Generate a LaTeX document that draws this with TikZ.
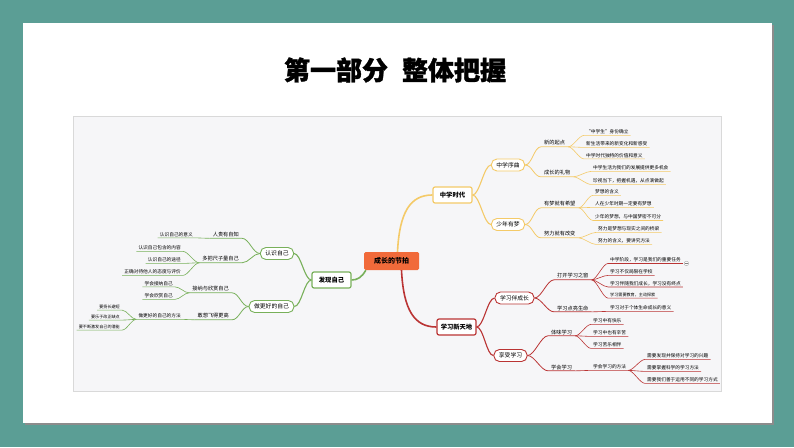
\documentclass[tikz,border=0pt]{standalone}
\usepackage{fontspec}
\newfontfamily\cjk{Noto Sans CJK SC}
\newfontfamily\titlefont[BoldFeatures={FakeBold=1.2}]{Noto Sans CJK SC}
\definecolor{bgteal}{RGB}{91,158,149}
\definecolor{mapbg}{RGB}{246,246,248}
\definecolor{yel}{RGB}{244,202,104}
\definecolor{rd}{RGB}{186,52,52}
\definecolor{gr}{RGB}{120,176,90}
\definecolor{org}{RGB}{241,106,58}
\newcommand\mmRB[3]{\draw[#1] (#2.east) .. controls +(7,0) and +(-7,0) .. (#3.west);}
\newcommand\mmRT[3]{\draw[#1] (#2.east) .. controls +(7,0) and +(-7,0) .. (#3.south west) -- (#3.south east);}
\newcommand\mmRL[3]{\draw[#1] (#2.south east) .. controls +(5,0) and +(-5,0) .. (#3.south west) -- (#3.south east);}
\newcommand\mmLB[3]{\draw[#1] (#2.west) .. controls +(-7,0) and +(7,0) .. (#3.east);}
\newcommand\mmLT[3]{\draw[#1] (#2.west) .. controls +(-7,0) and +(7,0) .. (#3.south east) -- (#3.south west);}
\newcommand\mmLL[3]{\draw[#1] (#2.south west) .. controls +(-5,0) and +(5,0) .. (#3.south east) -- (#3.south west);}
\tikzset{
  ctrbox/.style={fill=org, rounded corners=1.5pt, minimum width=55pt, minimum height=18pt, inner sep=0pt,
    font=\cjk\bfseries\fontsize{7}{8}\selectfont},
  lone/.style={draw, fill=white, rounded corners=2pt, line width=1.2pt, minimum height=16pt, minimum width=39pt, inner xsep=3pt,
    font=\cjk\bfseries\fontsize{6.3}{7}\selectfont, text=black},
  ltwo/.style={draw, fill=white, rounded corners=5.5pt, line width=0.9pt, minimum height=12pt, inner xsep=5pt, inner ysep=0pt,
    font=\cjk\fontsize{5.8}{6.5}\selectfont, text=black},
  tthree/.style={inner xsep=3pt, inner ysep=1.2pt, font=\cjk\fontsize{5.2}{6}\selectfont},
  leaf/.style={inner xsep=2pt, inner ysep=1pt, font=\cjk\fontsize{4.7}{5.3}\selectfont},
  tiny/.style={inner xsep=2pt, inner ysep=1pt, font=\cjk\fontsize{4.1}{4.8}\selectfont},
  rw/.style={anchor=west}, le/.style={anchor=east},
  yA/.style={draw=yel, line width=1.6pt}, yB/.style={draw=yel, line width=1.1pt}, yC/.style={draw=yel, line width=0.8pt}, yD/.style={draw=yel, line width=0.6pt},
  rA/.style={draw=rd, line width=1.6pt}, rB/.style={draw=rd, line width=1.1pt}, rC/.style={draw=rd, line width=0.8pt}, rD/.style={draw=rd, line width=0.6pt},
  gA/.style={draw=gr, line width=1.6pt}, gB/.style={draw=gr, line width=1.1pt}, gC/.style={draw=gr, line width=0.8pt}, gD/.style={draw=gr, line width=0.6pt},
}
\begin{document}
\begin{tikzpicture}[x=1pt,y=-1pt]
\useasboundingbox (0,0) rectangle (794,447);
\fill[bgteal] (0,0) rectangle (794,447);
\fill[black!45] (24.5,24.5) rectangle (773.5,424.5);
\fill[white] (23,23) rectangle (772,423);
\node[font=\titlefont\bfseries\fontsize{26}{28}\selectfont] (title) at (395,70) {第一部分\hspace{14pt}整体把握};
\draw[black!15, fill=mapbg] (73,116) rectangle (721,391);

% centre and level 1
\node[ctrbox] (ctr) at (391.5,261) {成长的节拍};
\node[lone, draw=yel] (zsd) at (452.5,195) {中学时代};
\node[lone, draw=rd] (xxt) at (456.5,327) {学习新天地};
\node[lone, draw=gr] (fx) at (331.5,280) {发现自己};
\draw[yA] ([xshift=6pt]ctr.north) .. controls +(2,-40) and +(-22,0) .. (zsd.west);
\draw[rA] ([xshift=10pt]ctr.south) .. controls +(2,40) and +(-22,0) .. (xxt.west);
\draw[gA] ([xshift=2pt]ctr.south west) .. controls +(-4,7) and +(6,0) .. (fx.east);

% level 2
\node[ltwo, draw=yel] (xq) at (508,165) {中学序曲};
\node[ltwo, draw=yel] (sn) at (508,224.5) {少年有梦};
\node[ltwo, draw=rd] (bcz) at (514.5,298) {学习伴成长};
\node[ltwo, draw=rd] (xsx) at (510.5,355.5) {享受学习};
\node[ltwo, draw=gr] (rs) at (277,253.5) {认识自己};
\node[ltwo, draw=gr] (zg) at (271.5,306.5) {做更好的自己};
\mmRB{yB}{zsd}{xq} \mmRB{yB}{zsd}{sn}
\mmRB{rB}{xxt}{bcz} \mmRB{rB}{xxt}{xsx}
\mmLB{gB}{fx}{rs} \mmLB{gB}{fx}{zg}

% level 3 right
\node[tthree, rw] (xqd) at (541,143) {新的起点};
\node[tthree, rw] (lw) at (541,173) {成长的礼物};
\node[tthree, rw] (ym) at (541,204) {有梦就有希望};
\node[tthree, rw] (nl) at (541,234) {努力就有改变};
\node[tthree, rw] (dk) at (554,276) {打开学习之窗};
\node[tthree, rw] (dl) at (554,308) {学习点亮生命};
\node[tthree, rw] (tw) at (548,332) {体味学习};
\node[tthree, rw] (xh) at (548,367) {学会学习};
\mmRT{yC}{xq}{xqd} \mmRT{yC}{xq}{lw}
\mmRT{yC}{sn}{ym} \mmRT{yC}{sn}{nl}
\mmRT{rC}{bcz}{dk} \mmRT{rC}{bcz}{dl}
\mmRT{rC}{xsx}{tw} \mmRT{rC}{xsx}{xh}

% level 3 left
\node[tthree, le] (rg) at (242,234.5) {人贵有自知};
\node[tthree, le] (dbc) at (242,259) {多把尺子量自己};
\node[tthree, le] (jn) at (232,289) {接纳与欣赏自己};
\node[tthree, le] (gf) at (232,316) {敢想飞得更高};
\mmLT{gC}{rs}{rg} \mmLT{gC}{rs}{dbc}
\mmLT{gC}{zg}{jn} \mmLT{gC}{zg}{gf}

% leaves right
\node[leaf, rw] (a1) at (584,132) {“中学生”身份确立};
\node[leaf, rw] (a2) at (584,144) {新生活带来的新变化和新感受};
\node[leaf, rw] (a3) at (584,155.5) {中学时代独特的价值和意义};
\node[leaf, rw] (b1) at (591,168) {中学生活为我们的发展提供更多机会};
\node[leaf, rw] (b2) at (591,181) {珍视当下，把握机遇，从点滴做起};
\node[leaf, rw] (c1) at (593,192) {梦想的含义};
\node[leaf, rw] (c2) at (593,204) {人在少年时期一定要有梦想};
\node[leaf, rw] (c3) at (593,217) {少年的梦想，与中国梦密不可分};
\node[leaf, rw] (d1) at (596,229) {努力是梦想与现实之间的桥梁};
\node[leaf, rw] (d2) at (596,241) {努力的含义，要讲究方法};
\mmRL{yD}{xqd}{a1} \mmRL{yD}{xqd}{a2} \mmRL{yD}{xqd}{a3}
\mmRL{yD}{lw}{b1} \mmRL{yD}{lw}{b2}
\mmRL{yD}{ym}{c1} \mmRL{yD}{ym}{c2} \mmRL{yD}{ym}{c3}
\mmRL{yD}{nl}{d1} \mmRL{yD}{nl}{d2}

\node[leaf, rw] (e1) at (608,260) {中学阶段，学习是我们的重要任务};
\node[leaf, rw] (e2) at (608,272) {学习不仅局限在学校};
\node[leaf, rw] (e3) at (608,283.5) {学习伴随我们成长，学习没有终点};
\node[tiny, rw] (e4) at (608,295) {学习需要教育，主动探索};
\node[leaf, rw] (f1) at (608,308) {学习对于个体生命成长的意义};
\node[leaf, rw] (g1) at (591,321) {学习中有快乐};
\node[leaf, rw] (g2) at (591,333) {学习中也有辛苦};
\node[leaf, rw] (g3) at (591,345) {学习苦乐相伴};
\node[leaf, rw] (h1) at (591,367) {学会学习的方法};
\node[leaf, rw] (i1) at (645,356) {需要发现并保持对学习的兴趣};
\node[leaf, rw] (i2) at (645,368) {需要掌握科学的学习方法};
\node[leaf, rw] (i3) at (645,380) {需要我们善于运用不同的学习方式};
\mmRL{rD}{dk}{e1} \mmRL{rD}{dk}{e2} \mmRL{rD}{dk}{e3} \mmRL{rD}{dk}{e4}
\mmRL{rD}{dl}{f1}
\mmRL{rD}{tw}{g1} \mmRL{rD}{tw}{g2} \mmRL{rD}{tw}{g3}
\mmRL{rD}{xh}{h1}
\mmRL{rD}{h1}{i1} \mmRL{rD}{h1}{i2} \mmRL{rD}{h1}{i3}
\node[draw=black!35, fill=white, circle, line width=0.4pt, inner sep=0pt, minimum size=4.5pt] (fold) at ([xshift=3.5pt]e1.south east) {};
\draw[black!50, line width=0.4pt] ([xshift=-1.2pt]fold.center) -- ([xshift=1.2pt]fold.center);

% leaves left
\node[leaf, le] (r1) at (195,234.5) {认识自己的意义};
\node[leaf, le] (m1) at (183,248) {认识自己包含的内容};
\node[leaf, le] (m2) at (183,260) {认识自己的途径};
\node[leaf, le] (m3) at (183,272) {正确对待他人的态度与评价};
\node[leaf, le] (j1) at (175,283.5) {学会接纳自己};
\node[leaf, le] (j2) at (175,296) {学会欣赏自己};
\node[leaf, le] (fm) at (183,316) {做更好的自己的方法};
\node[tiny, le] (k1) at (122,307) {要扬长避短};
\node[tiny, le] (k2) at (122,317) {要乐于改正缺点};
\node[tiny, le] (k3) at (122,327) {要不断激发自己的潜能};
\mmLL{gD}{rg}{r1}
\mmLL{gD}{dbc}{m1} \mmLL{gD}{dbc}{m2} \mmLL{gD}{dbc}{m3}
\mmLL{gD}{jn}{j1} \mmLL{gD}{jn}{j2}
\mmLL{gD}{gf}{fm}
\mmLL{gD}{fm}{k1} \mmLL{gD}{fm}{k2} \mmLL{gD}{fm}{k3}
\end{tikzpicture}
\end{document}
